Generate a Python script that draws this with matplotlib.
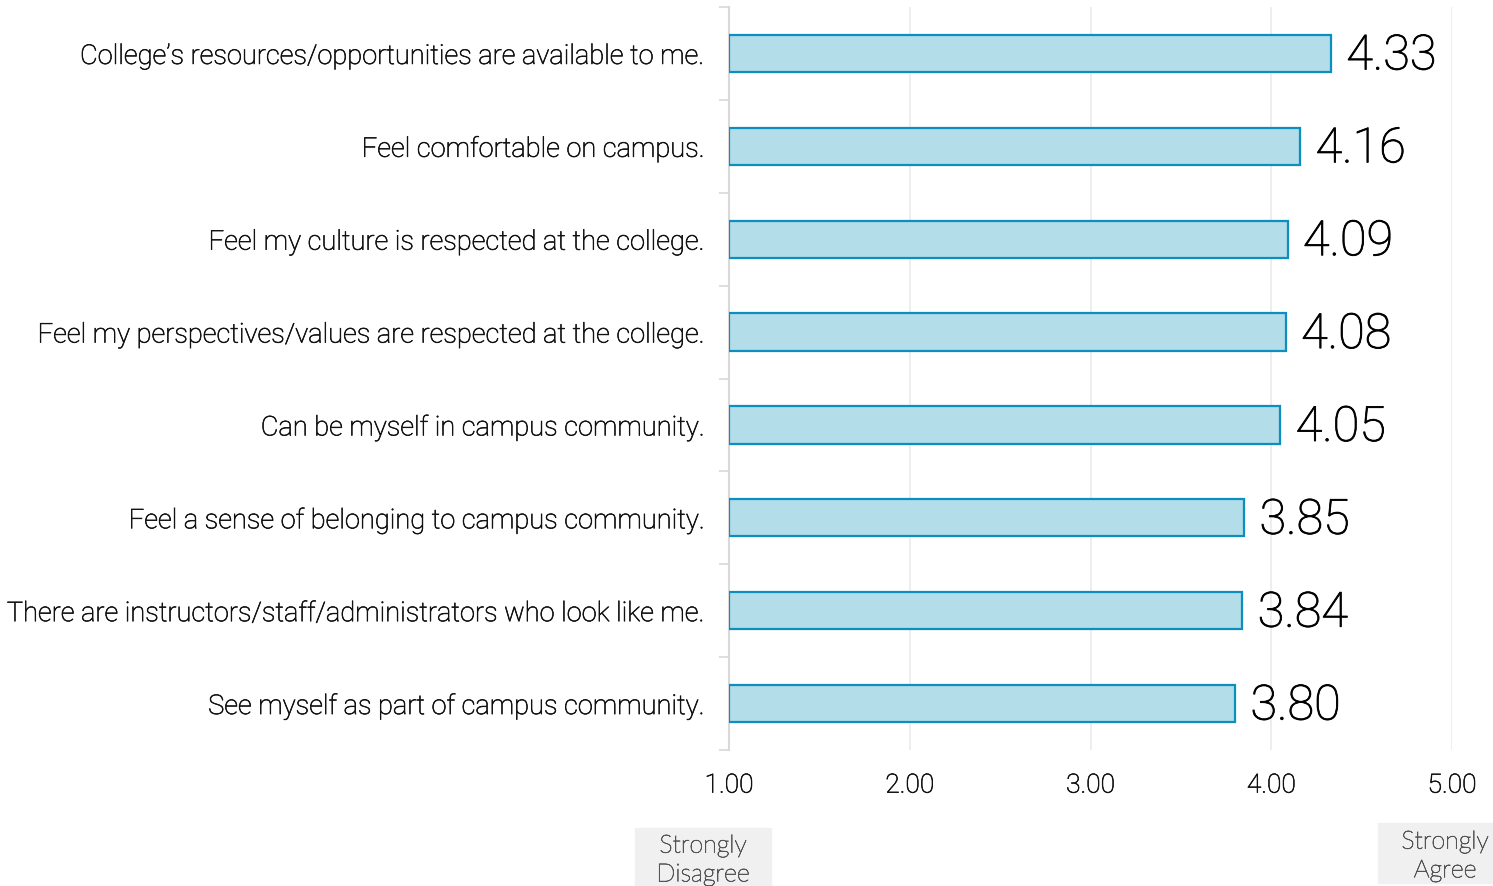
import matplotlib
matplotlib.use("Agg")
import matplotlib.pyplot as plt
import matplotlib.patheffects as pe
import numpy as np

categories = [
    "College\u2019s resources/opportunities are available to me.",
    "Feel comfortable on campus.",
    "Feel my culture is respected at the college.",
    "Feel my perspectives/values are respected at the college.",
    "Can be myself in campus community.",
    "Feel a sense of belonging to campus community.",
    "There are instructors/staff/administrators who look like me.",
    "See myself as part of campus community.",
]
scores = [4.33, 4.16, 4.09, 4.08, 4.05, 3.85, 3.84, 3.80]
xticks = [1.0, 2.0, 3.0, 4.0, 5.0]
scale_low = "Strongly\nDisagree"
scale_high = "Strongly\nAgree"

W, H = 1493, 887
fig = plt.figure(figsize=(W / 100, H / 100), dpi=100)
ax = fig.add_axes([729 / W, 1 - 751 / H, (1452 - 729) / W, (751 - 8) / H])

def bolder(color, lw=0.45):
    return [pe.withStroke(linewidth=lw, foreground=color)]

y = np.arange(len(categories))
base = 1.0
ax.barh(y, [s - base for s in scores], left=base, height=0.4,
        color="#b3dde9", edgecolor="#0b8fc1", linewidth=1.6, zorder=3)

ax.set_xlim(1.0, 5.0)
ax.set_ylim(len(categories) - 0.5, -0.5)

# value labels
for yi, s in zip(y, scores):
    ax.text(s + 0.085, yi + 0.03, f"{s:.2f}", va="center", ha="left",
            fontsize=35, family="Roboto", fontweight="light", color="#000000",
            path_effects=bolder("#000000", 0.6))

# category labels
ax.set_yticks(y)
ax.set_yticklabels(categories, family="Roboto", fontweight="light",
                   fontsize=19.6, color="#111111")
for lbl in ax.get_yticklabels():
    lbl.set_path_effects(bolder("#111111"))
ax.tick_params(axis="y", which="major", length=0, pad=17.6)
ax.set_yticks(np.arange(-0.5, len(categories), 1.0), minor=True)
ax.tick_params(axis="y", which="minor", length=7, width=1.2, color="#d9d9d9")

ax.set_xticks(xticks)
ax.set_xticklabels([f"{t:.2f}" for t in xticks], family="Roboto",
                   fontweight="light", fontsize=19, color="#111111")
for lbl in ax.get_xticklabels():
    lbl.set_path_effects(bolder("#111111"))
ax.tick_params(axis="x", length=0, pad=17)
ax.grid(axis="x", color="#ebebeb", linewidth=1.2, zorder=0)
ax.set_axisbelow(True)

for side in ["top", "right", "bottom"]:
    ax.spines[side].set_visible(False)
ax.spines["left"].set_color("#d9d9d9")
ax.spines["left"].set_linewidth(1.5)

# scale anchor boxes
def anchor(text, x0, y0, x1, y1, xc):
    fig.patches.append(plt.Rectangle((x0 / W, 1 - y1 / H), (x1 - x0) / W, (y1 - y0) / H,
                                     transform=fig.transFigure, color="#f0f0f0", zorder=0))
    fig.text(xc / W, 1 - ((y0 + y1) / 2 + 3) / H, text, ha="center", va="center",
             family="Lato", fontweight="light", fontsize=18, color="#555555",
             linespacing=1.25, path_effects=bolder("#555555", 0.5))

anchor(scale_low, 635, 829, 771, 887, 703)
anchor(scale_high, 1378, 824, 1493, 884, 1445)

fig.savefig("out.png", dpi=100)
